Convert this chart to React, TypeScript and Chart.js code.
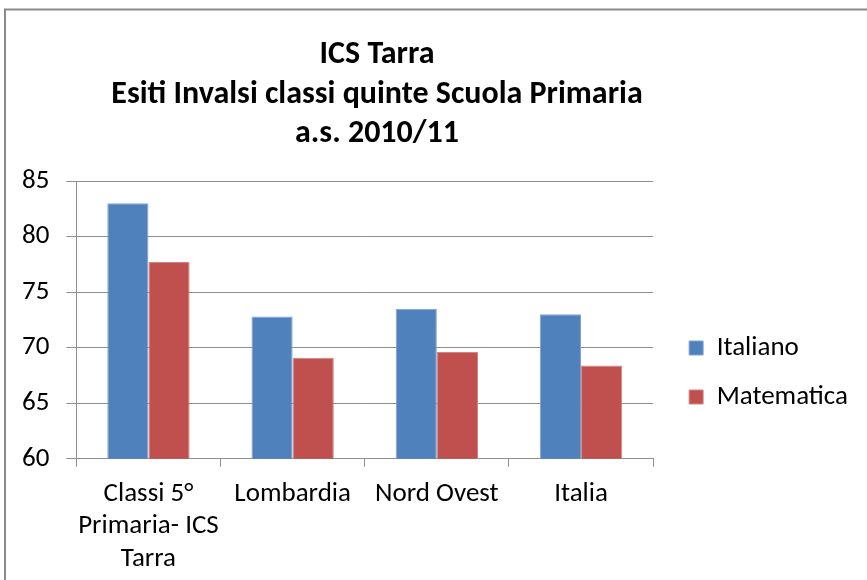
import React, { useEffect, useRef } from "react";
import { Chart, registerables } from "chart.js";

Chart.register(...registerables);

const TITLE_LINES = ["ICS Tarra", "Esiti Invalsi classi quinte Scuola Primaria", "a.s. 2010/11"];
const CATEGORIES: (string | string[])[] = [["Classi 5°", "Primaria- ICS", "Tarra"], "Lombardia", "Nord Ovest", "Italia"];
const ITALIANO = [83.0, 72.8, 73.5, 73.0];
const MATEMATICA = [77.7, 69.1, 69.6, 68.4];
const SERIES_NAMES = ["Italiano", "Matematica"];
const Y_MIN = 60;
const Y_MAX = 85;
const Y_STEP = 5;

const FONT = "Carlito, Lato, 'Liberation Sans', sans-serif";
const GRID = "#8e8e8e";

const frameAndTitle = {
  id: "frameAndTitle",
  afterLayout(chart: any) {
    const lg = chart.legend;
    if (lg) {
      lg.left += 14;
      lg.right += 14;
      lg.top -= 11;
      lg.bottom -= 11;
    }
  },
  beforeDraw(chart: any) {
    const ctx = chart.ctx;
    ctx.save();
    ctx.fillStyle = "#ffffff";
    ctx.fillRect(0, 0, chart.width, chart.height);
    ctx.strokeStyle = "#8a8a8a";
    ctx.lineWidth = 2;
    ctx.strokeRect(5, 9.5, chart.width + 20, chart.height + 20);
    ctx.restore();
  },
  afterDraw(chart: any) {
    const ctx = chart.ctx;
    ctx.save();
    ctx.fillStyle = "#000000";
    ctx.font = `bold 32px ${FONT}`;
    ctx.textAlign = "center";
    ctx.textBaseline = "alphabetic";
    const baselines = [63, 103, 142];
    TITLE_LINES.forEach((t, i) => ctx.fillText(t, 377, baselines[i]));
    ctx.restore();
  },
};

export default function App() {
  const ref = useRef<HTMLCanvasElement>(null);
  useEffect(() => {
    if (!ref.current) return;
    const chart = new Chart(ref.current, {
      type: "bar",
      data: {
        labels: CATEGORIES as any,
        datasets: [
          {
            label: SERIES_NAMES[0],
            data: ITALIANO,
            backgroundColor: "#4F81BD",
            borderColor: "#7EA3D3",
            borderWidth: 1,
          },
          {
            label: SERIES_NAMES[1],
            data: MATEMATICA,
            backgroundColor: "#C0504D",
            borderColor: "#D68482",
            borderWidth: 1,
          },
        ],
      },
      options: {
        responsive: false,
        animation: false,
        devicePixelRatio: 1,
        datasets: { bar: { categoryPercentage: 0.571, barPercentage: 1 } },
        layout: { padding: { top: 181, left: 5, right: 23, bottom: -6 } },
        plugins: {
          title: { display: false },
          tooltip: { enabled: false },
          legend: {
            position: "right",
            labels: {
              font: { family: FONT, size: 27 },
              color: "#000",
              boxWidth: 14,
              boxHeight: 14,
              padding: 22,
            },
          },
        },
        scales: {
          x: {
            grid: { display: true, drawOnChartArea: false, drawTicks: true, tickLength: 8, color: GRID, offset: true },
            border: { display: true, color: GRID },
            ticks: {
              font: { family: FONT, size: 27, lineHeight: 1.2 },
              color: "#000",
              maxRotation: 0,
              minRotation: 0,
              autoSkip: false,
              padding: 11,
            },
          },
          y: {
            min: Y_MIN,
            max: Y_MAX,
            grid: { color: GRID, tickLength: 10 },
            border: { display: true, color: GRID },
            ticks: { stepSize: Y_STEP, font: { family: FONT, size: 27 }, color: "#000", padding: 17 },
          },
        },
      },
      plugins: [frameAndTitle],
    });
    return () => chart.destroy();
  }, []);
  return (
    <canvas
      ref={ref}
      width={867}
      height={580}
      style={{ position: "absolute", left: 0, top: 0, width: 867, height: 580 }}
    />
  );
}
